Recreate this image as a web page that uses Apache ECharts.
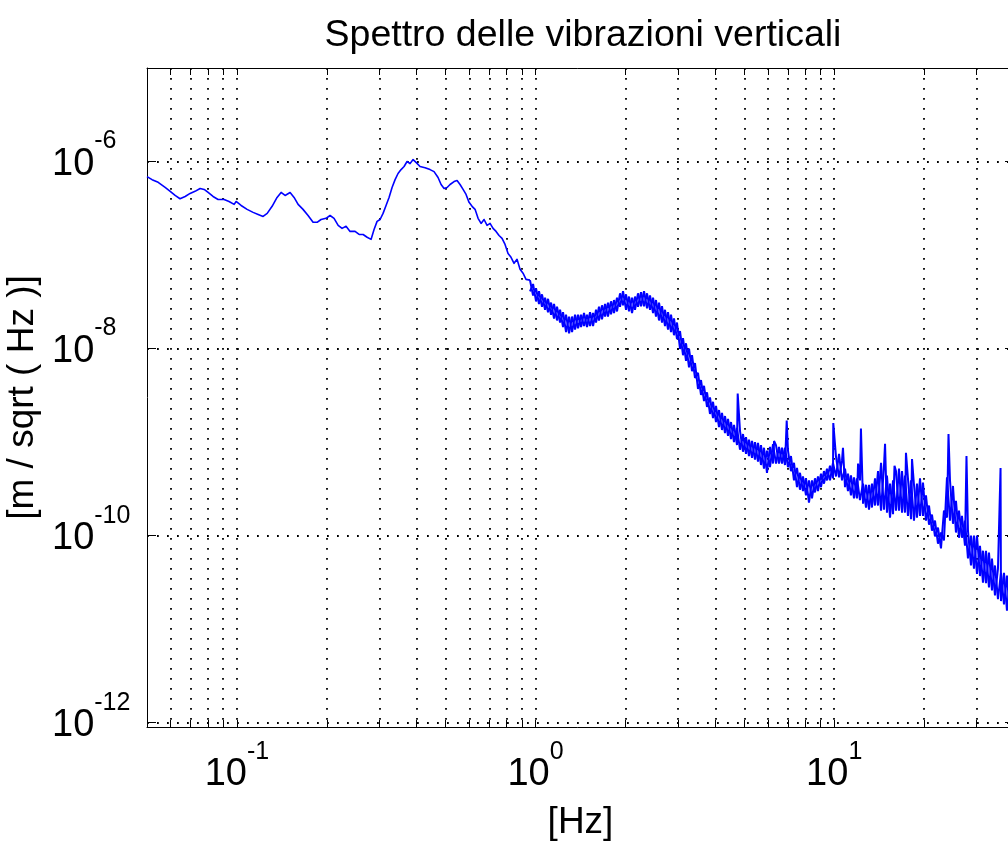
<!DOCTYPE html>
<html>
<head>
<meta charset="utf-8">
<title>Spettro delle vibrazioni verticali</title>
<script src="https://cdn.jsdelivr.net/npm/echarts@6/dist/echarts.min.js"></script>
<style>
  html, body { margin: 0; padding: 0; background: #fff; overflow: hidden; }
  #chart { width: 1008px; height: 845px; }
</style>
</head>
<body>
<div id="chart"></div>
<script>
// Tick positions (labelled decades and dotted grid positions)
const xTickHz = [0.1, 1, 10];
const xGridHz = [0.06, 0.07, 0.08, 0.09, 0.1, 0.2, 0.3, 0.4, 0.5, 0.6, 0.7, 0.8, 0.9,
                 1, 2, 3, 4, 5, 6, 7, 8, 9, 10, 20, 30];
const yTickAmp = [1e-12, 1e-10, 1e-8, 1e-6];

// Low-frequency part of the spectrum (single trace), frequency in Hz and amplitude in m/sqrt(Hz)
const lowFreqHz = [0.0500, 0.0520, 0.0545, 0.0575, 0.0598, 0.0621, 0.0645, 0.0671, 0.0697, 0.0724,
  0.0753, 0.0777, 0.0801, 0.0832, 0.0865, 0.0906, 0.0941, 0.0979, 0.0994, 0.1033,
  0.1082, 0.1133, 0.1178, 0.1224, 0.1263, 0.1312, 0.1363, 0.1406, 0.1450, 0.1507,
  0.1554, 0.1603, 0.1665, 0.1731, 0.1799, 0.1856, 0.1913, 0.1988, 0.2051, 0.2115,
  0.2183, 0.2250, 0.2320, 0.2393, 0.2487, 0.2566, 0.2646, 0.2729, 0.2813, 0.2879,
  0.2947, 0.3016, 0.3086, 0.3158, 0.3232, 0.3308, 0.3386, 0.3464, 0.3546, 0.3629,
  0.3713, 0.3800, 0.3890, 0.3980, 0.4105, 0.4266, 0.4433, 0.4572, 0.4716, 0.4827,
  0.4940, 0.5056, 0.5173, 0.5335, 0.5460, 0.5587, 0.5719, 0.5852, 0.5989, 0.6130,
  0.6273, 0.6420, 0.6570, 0.6724, 0.6881, 0.7042, 0.7206, 0.7375, 0.7546, 0.7723,
  0.7904, 0.8089, 0.8278, 0.8472, 0.8670, 0.8873, 0.9080, 0.9293, 0.958];
const lowAsd = [6.9e-7, 6.4e-7, 6.0e-7, 5.3e-7, 4.8e-7, 4.34e-7, 4.0e-7, 4.23e-7, 4.56e-7, 4.8e-7,
  5.15e-7, 5.03e-7, 4.67e-7, 4.23e-7, 3.93e-7, 3.93e-7, 3.74e-7, 3.48e-7, 3.74e-7, 3.39e-7,
  3.08e-7, 2.86e-7, 2.72e-7, 2.59e-7, 2.79e-7, 3.32e-7, 4.13e-7, 4.67e-7, 4.34e-7, 4.67e-7,
  4.13e-7, 3.48e-7, 3.08e-7, 2.65e-7, 2.24e-7, 2.24e-7, 2.40e-7, 2.47e-7, 2.65e-7, 2.47e-7,
  2.08e-7, 1.93e-7, 2.03e-7, 1.79e-7, 1.79e-7, 1.66e-7, 1.66e-7, 1.55e-7, 1.47e-7, 1.88e-7,
  2.29e-7, 2.40e-7, 2.79e-7, 3.39e-7, 4.13e-7, 5.28e-7, 6.4e-7, 7.45e-7, 8.2e-7, 8.85e-7,
  1.0e-6, 9.5e-7, 1.05e-6, 9.8e-7, 8.85e-7, 8.6e-7, 8.2e-7, 7.8e-7, 6.75e-7, 5.68e-7,
  5.15e-7, 5.28e-7, 5.68e-7, 6.1e-7, 6.27e-7, 5.68e-7, 5.03e-7, 4.45e-7, 3.66e-7, 3.32e-7,
  3.08e-7, 2.47e-7, 2.18e-7, 2.40e-7, 2.08e-7, 2.18e-7, 1.93e-7, 1.79e-7, 1.62e-7, 1.51e-7,
  1.30e-7, 1.04e-7, 9.46e-8, 8.16e-8, 9.0e-8, 7.05e-8, 6.4e-8, 5.5e-8, 5.4e-8];

// Noisy part above ~1 Hz: frequency bins with the upper and lower edge of the noise band
const bandFreqHz = [0.958, 0.981, 1.004, 1.027, 1.051, 1.076, 1.101, 1.127, 1.153, 1.180,
  1.208, 1.236, 1.265, 1.295, 1.325, 1.356, 1.388, 1.420, 1.453, 1.487,
  1.522, 1.558, 1.594, 1.631, 1.669, 1.709, 1.748, 1.789, 1.831, 1.874,
  1.918, 1.963, 2.009, 2.056, 2.104, 2.153, 2.203, 2.255, 2.308, 2.362,
  2.417, 2.474, 2.531, 2.591, 2.651, 2.713, 2.777, 2.842, 2.908, 2.976,
  3.046, 3.117, 3.190, 3.265, 3.341, 3.419, 3.499, 3.581, 3.665, 3.751,
  3.838, 3.928, 4.020, 4.114, 4.210, 4.309, 4.410, 4.513, 4.618, 4.726,
  4.837, 4.950, 5.066, 5.184, 5.306, 5.430, 5.557, 5.687, 5.820, 5.956,
  6.095, 6.238, 6.384, 6.533, 6.686, 6.843, 7.003, 7.166, 7.334, 7.506,
  7.681, 7.861, 8.045, 8.233, 8.426, 8.623, 8.825, 9.031, 9.242, 9.459,
  9.680, 9.906, 10.14, 10.38, 10.62, 10.87, 11.12, 11.38, 11.65, 11.92,
  12.20, 12.49, 12.78, 13.08, 13.38, 13.70, 14.02, 14.35, 14.68, 15.02,
  15.38, 15.74, 16.10, 16.48, 16.87, 17.26, 17.66, 18.08, 18.50, 18.93,
  19.38, 19.83, 20.29, 20.77, 21.25, 21.75, 22.26, 22.78, 23.31, 23.86,
  24.42, 24.99, 25.57, 26.17, 26.78, 27.41, 28.05, 28.71, 29.38, 30.07,
  30.77, 31.49, 32.23, 32.98, 33.75, 34.54, 35.35, 36.18, 37.03, 37.89,
  38.78, 39.69];
const bandUpper = [5.4e-8, 4.9e-8, 4.4e-8, 4.1e-8, 3.8e-8, 3.5e-8, 3.4e-8, 3.1e-8, 3.0e-8, 2.8e-8,
  2.6e-8, 2.45e-8, 2.3e-8, 2.2e-8, 2.2e-8, 2.3e-8, 2.3e-8, 2.3e-8, 2.4e-8, 2.3e-8,
  2.45e-8, 2.4e-8, 2.6e-8, 2.8e-8, 2.9e-8, 3.0e-8, 3.1e-8, 3.2e-8, 3.3e-8, 3.5e-8,
  3.9e-8, 4.1e-8, 3.8e-8, 3.6e-8, 3.5e-8, 3.6e-8, 3.9e-8, 4.0e-8, 4.1e-8, 3.9e-8,
  3.7e-8, 3.5e-8, 3.3e-8, 3.1e-8, 2.84e-8, 2.6e-8, 2.45e-8, 2.3e-8, 2.1e-8, 1.9e-8,
  1.54e-8, 1.29e-8, 1.14e-8, 1.0e-8, 8.5e-9, 7.0e-9, 5.5e-9, 4.6e-9, 4.0e-9, 3.4e-9,
  3.0e-9, 2.7e-9, 2.44e-9, 2.2e-9, 2.05e-9, 1.9e-9, 1.77e-9, 1.64e-9, 1.53e-9, 1.42e-9,
  1.32e-9, 1.22e-9, 1.13e-9, 1.06e-9, 1.03e-9, 1.0e-9, 9.8e-10, 9.3e-10, 8.7e-10, 8.1e-10,
  8.9e-10, 9.5e-10, 9.3e-10, 8.9e-10, 8.7e-10, 8.7e-10, 8.1e-10, 7.1e-10, 6.0e-10, 5.3e-10,
  4.7e-10, 4.3e-10, 4.1e-10, 3.9e-10, 3.9e-10, 4.1e-10, 4.3e-10, 4.6e-10, 4.9e-10, 5.2e-10,
  5.6e-10, 6.0e-10, 7.0e-10, 7.5e-10, 6.3e-10, 5.2e-10, 4.6e-10, 4.4e-10, 4.2e-10, 4.1e-10,
  3.9e-10, 3.6e-10, 3.5e-10, 3.5e-10, 3.6e-10, 4.1e-10, 4.9e-10, 6.0e-10, 5.6e-10, 4.4e-10,
  3.6e-10, 3.9e-10, 4.9e-10, 5.2e-10, 4.9e-10, 4.4e-10, 4.1e-10, 3.9e-10, 3.5e-10, 3.6e-10,
  4.1e-10, 3.7e-10, 2.7e-10, 2.1e-10, 1.68e-10, 1.45e-10, 1.22e-10, 1.08e-10, 1.85e-10, 4.2e-10,
  3.9e-10, 3.4e-10, 2.36e-10, 1.85e-10, 1.63e-10, 1.45e-10, 1.13e-10, 1.0e-10, 1.0e-10, 1.0e-10,
  7.8e-11, 6.9e-11, 6.9e-11, 6.6e-11, 5.7e-11, 4.8e-11, 4.45e-11, 4.0e-11, 4.0e-11, 3.74e-11,
  3.5e-11, 3.15e-11];
const bandLower = [4.1e-8, 3.7e-8, 3.2e-8, 3.0e-8, 2.8e-8, 2.6e-8, 2.45e-8, 2.3e-8, 2.1e-8, 2.0e-8,
  1.9e-8, 1.7e-8, 1.5e-8, 1.46e-8, 1.5e-8, 1.6e-8, 1.65e-8, 1.7e-8, 1.74e-8, 1.7e-8,
  1.74e-8, 1.74e-8, 1.9e-8, 2.0e-8, 2.06e-8, 2.2e-8, 2.2e-8, 2.33e-8, 2.4e-8, 2.5e-8,
  2.8e-8, 2.9e-8, 2.6e-8, 2.5e-8, 2.4e-8, 2.6e-8, 2.8e-8, 2.84e-8, 2.84e-8, 2.7e-8,
  2.6e-8, 2.4e-8, 2.2e-8, 2.0e-8, 1.9e-8, 1.74e-8, 1.6e-8, 1.5e-8, 1.39e-8, 1.26e-8,
  9.9e-9, 8.5e-9, 7.4e-9, 6.3e-9, 5.75e-9, 4.85e-9, 3.7e-9, 3.2e-9, 2.75e-9, 2.38e-9,
  2.0e-9, 1.81e-9, 1.64e-9, 1.45e-9, 1.35e-9, 1.25e-9, 1.17e-9, 1.08e-9, 1.0e-9, 9.3e-10,
  8.3e-10, 7.9e-10, 7.5e-10, 7.1e-10, 6.8e-10, 6.5e-10, 6.2e-10, 5.7e-10, 5.2e-10, 4.7e-10,
  5.4e-10, 5.9e-10, 5.9e-10, 5.9e-10, 5.9e-10, 5.7e-10, 5.4e-10, 4.9e-10, 3.9e-10, 3.3e-10,
  3.1e-10, 3.0e-10, 2.7e-10, 2.25e-10, 2.5e-10, 2.9e-10, 3.0e-10, 3.3e-10, 3.6e-10, 3.9e-10,
  3.9e-10, 4.1e-10, 4.3e-10, 4.2e-10, 3.9e-10, 3.3e-10, 3.0e-10, 2.7e-10, 2.5e-10, 2.5e-10,
  2.4e-10, 2.2e-10, 2.0e-10, 1.9e-10, 2.0e-10, 2.1e-10, 2.1e-10, 1.85e-10, 1.9e-10, 1.76e-10,
  1.56e-10, 1.7e-10, 1.85e-10, 1.85e-10, 1.76e-10, 1.76e-10, 1.63e-10, 1.5e-10, 1.45e-10, 1.56e-10,
  1.63e-10, 1.63e-10, 1.45e-10, 1.31e-10, 1.13e-10, 9.8e-11, 8.2e-11, 7.3e-11, 8.9e-11, 1.56e-10,
  1.45e-10, 1.34e-10, 1.08e-10, 9.5e-11, 9.5e-11, 7.8e-11, 5.7e-11, 4.8e-11, 4.45e-11, 3.9e-11,
  3.7e-11, 3.15e-11, 3.1e-11, 2.8e-11, 2.6e-11, 2.3e-11, 2.1e-11, 2.0e-11, 1.84e-11, 1.58e-11,
  1.44e-11, 1.3e-11];

// Narrow spectral lines standing out of the noise band
const lineFreqHz = [4.752, 6.290, 6.934, 9.930, 10.70, 12.02, 12.29, 14.80, 15.92, 17.39,
  18.22, 24.14, 27.73, 36.06];
const lineAsd = [3.3e-9, 1.03e-9, 1.7e-9, 1.6e-9, 8.7e-10, 5.9e-10, 1.4e-9, 9.6e-10, 5.6e-10, 7.7e-10,
  6.6e-10, 1.22e-9, 7.1e-10, 5.3e-10];

const FONT = '"Liberation Sans", Arial, Helvetica, sans-serif';
const BLUE = '#0000ff';
const zip = (f, a) => f.map((v, i) => [v, a[i]]);

// The noise band is drawn as two interleaved traces running between its edges
const bandTraceA = bandFreqHz.map((f, i) => [f, i % 2 === 0 ? bandUpper[i] : bandLower[i]])
  .concat(zip(lineFreqHz, lineAsd))
  .sort((a, b) => a[0] - b[0]);
const bandTraceB = bandFreqHz.map((f, i) => [f, i % 2 === 0 ? bandLower[i] : bandUpper[i]]);

// "10" with a raised exponent
const rich = {
  b: { fontFamily: FONT, fontSize: 38, lineHeight: 38, verticalAlign: 'bottom', color: '#000' },
  s: { fontFamily: FONT, fontSize: 25, lineHeight: 54, verticalAlign: 'top', color: '#000' }
};
const powLabel = v => '{b|10}{s|' + Math.round(Math.log10(v)) + '}';

const axisLine = { show: true, lineStyle: { color: '#000', width: 1 } };
const dotted = { show: true, lineStyle: { color: '#000', width: 1.8, type: [1.8, 8.2] } };

function xAxisDef(pos) {
  const bottom = pos === 'bottom';
  return {
    type: 'log', logBase: 10, min: 0.05, max: 40, position: pos, gridIndex: 0,
    name: bottom ? '[Hz]' : '', nameLocation: 'middle', nameGap: 77,
    nameTextStyle: { fontFamily: FONT, fontSize: 37, color: '#000' },
    axisLine: axisLine,
    axisTick: { show: true, inside: true, length: 7, customValues: xGridHz, lineStyle: { color: '#000' } },
    axisLabel: bottom
      ? { show: true, customValues: xTickHz, formatter: powLabel, rich: rich, margin: 13 }
      : { show: false },
    splitLine: bottom ? dotted : { show: false },
    minorTick: { show: false }, minorSplitLine: { show: false }
  };
}

function yAxisDef(pos) {
  const left = pos === 'left';
  return {
    type: 'log', logBase: 10, min: 9e-13, max: 1e-5, position: pos, gridIndex: 0,
    name: left ? '[m / sqrt ( Hz )]' : '', nameLocation: 'middle', nameGap: 104, nameRotate: 90,
    nameTextStyle: { fontFamily: FONT, fontSize: 37, color: '#000' },
    axisLine: axisLine,
    axisTick: { show: true, inside: true, length: 9, customValues: yTickAmp, lineStyle: { color: '#000' } },
    axisLabel: left
      ? { show: true, customValues: yTickAmp, formatter: powLabel, rich: rich,
          align: 'left', margin: 95, padding: [0, 0, 11, 0] }
      : { show: false },
    splitLine: left ? dotted : { show: false },
    minorTick: { show: false }, minorSplitLine: { show: false }
  };
}

const chart = echarts.init(document.getElementById('chart'), null, { renderer: 'canvas' });
chart.setOption({
  animation: false,
  backgroundColor: '#ffffff',
  title: {
    text: 'Spettro delle vibrazioni verticali',
    left: 578, top: 12, textAlign: 'center',
    textStyle: { fontFamily: FONT, fontSize: 37.5, fontWeight: 'normal', color: '#000' }
  },
  grid: { left: 147, top: 68, width: 867, height: 659, containLabel: false, outerBoundsMode: 'none' },
  xAxis: [xAxisDef('bottom'), xAxisDef('top')],
  yAxis: [yAxisDef('left'), yAxisDef('right')],
  series: [
    {
      type: 'line', xAxisIndex: 0, yAxisIndex: 0,
      data: zip(lowFreqHz, lowAsd),
      symbol: 'none', silent: true, clip: true,
      lineStyle: { color: BLUE, width: 1.6, join: 'round' }
    },
    {
      type: 'line', xAxisIndex: 0, yAxisIndex: 0,
      data: bandTraceA,
      symbol: 'none', silent: true, clip: true,
      lineStyle: { color: BLUE, width: 2, join: 'bevel' }
    },
    {
      type: 'line', xAxisIndex: 0, yAxisIndex: 0,
      data: bandTraceB,
      symbol: 'none', silent: true, clip: true,
      lineStyle: { color: BLUE, width: 2, join: 'bevel' }
    }
  ]
});
</script>
</body>
</html>
